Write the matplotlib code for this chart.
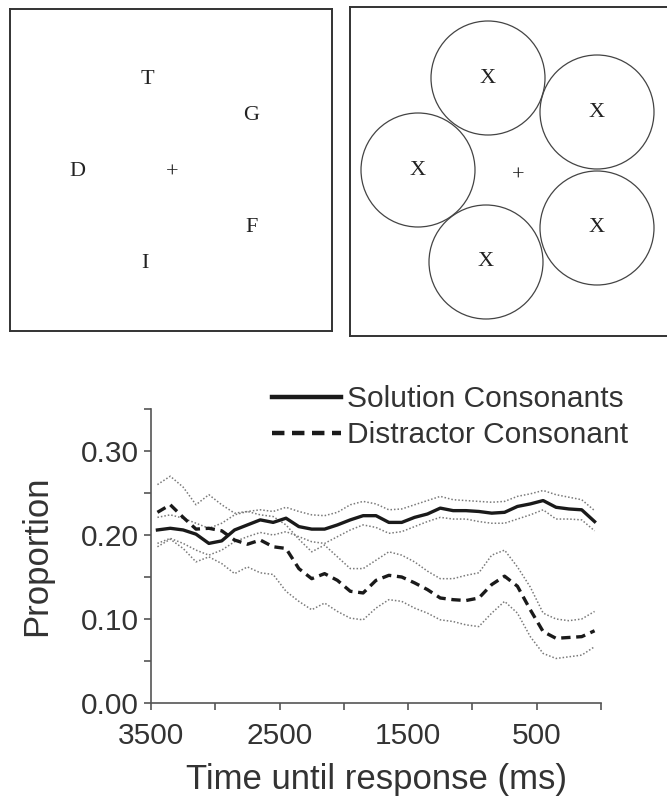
import matplotlib
matplotlib.use("Agg")
import matplotlib.pyplot as plt
from matplotlib.patches import Circle

plt.rcParams['font.family'] = ['Liberation Sans', 'DejaVu Sans']

# time bins (ms before response)
time_ms = list(range(3450, 0, -100))

sol_mean = [0.206, 0.208, 0.206, 0.201, 0.190, 0.193, 0.206, 0.212, 0.218, 0.215,
            0.220, 0.210, 0.207, 0.207, 0.212, 0.218, 0.223, 0.223, 0.215, 0.215,
            0.221, 0.225, 0.232, 0.229, 0.229, 0.228, 0.226, 0.227, 0.234, 0.237,
            0.241, 0.233, 0.231, 0.230, 0.216]
sol_upper = [0.221, 0.224, 0.220, 0.214, 0.208, 0.214, 0.224, 0.228, 0.230, 0.228,
             0.233, 0.228, 0.224, 0.223, 0.227, 0.236, 0.240, 0.237, 0.230, 0.231,
             0.236, 0.241, 0.246, 0.242, 0.241, 0.240, 0.239, 0.240, 0.246, 0.249,
             0.253, 0.248, 0.245, 0.242, 0.229]
sol_lower = [0.190, 0.196, 0.190, 0.182, 0.176, 0.182, 0.192, 0.198, 0.203, 0.200,
             0.204, 0.198, 0.192, 0.190, 0.198, 0.206, 0.212, 0.209, 0.202, 0.204,
             0.210, 0.216, 0.221, 0.219, 0.219, 0.216, 0.214, 0.214, 0.219, 0.224,
             0.230, 0.219, 0.219, 0.218, 0.205]

dis_mean = [0.227, 0.236, 0.221, 0.207, 0.208, 0.205, 0.194, 0.189, 0.194, 0.186,
            0.184, 0.160, 0.148, 0.154, 0.146, 0.133, 0.131, 0.146, 0.152, 0.150,
            0.143, 0.135, 0.125, 0.123, 0.122, 0.125, 0.141, 0.151, 0.139, 0.111,
            0.085, 0.077, 0.078, 0.079, 0.086]
dis_upper = [0.260, 0.270, 0.257, 0.236, 0.248, 0.236, 0.226, 0.228, 0.224, 0.222,
             0.212, 0.195, 0.180, 0.188, 0.174, 0.160, 0.160, 0.170, 0.180, 0.176,
             0.168, 0.157, 0.148, 0.148, 0.152, 0.155, 0.176, 0.182, 0.162, 0.138,
             0.107, 0.100, 0.098, 0.100, 0.109]
dis_lower = [0.186, 0.195, 0.184, 0.168, 0.174, 0.166, 0.154, 0.162, 0.155, 0.153,
             0.133, 0.121, 0.111, 0.119, 0.109, 0.101, 0.099, 0.113, 0.123, 0.121,
             0.113, 0.107, 0.099, 0.097, 0.093, 0.091, 0.107, 0.121, 0.107, 0.079,
             0.059, 0.053, 0.055, 0.057, 0.067]

# stimulus displays
letters = ['T', 'G', 'D', 'F', 'I']
letter_xy = [(137, 70), (241, 106), (67, 162), (242, 219), (135, 254)]
circle_xy = [(138, 71), (247, 105), (68, 163), (136, 255), (247, 221)]

W, H = 667, 797
fig = plt.figure(figsize=(W / 100, H / 100), dpi=100)

def px_axes(x0, y0, x1, y1):
    return fig.add_axes([x0 / W, 1 - y1 / H, (x1 - x0) / W, (y1 - y0) / H])

edge = '#333333'
serif = ['Liberation Serif', 'DejaVu Serif']

# left display
a1 = px_axes(10, 9, 332, 331)
a1.set_xlim(0, 322)
a1.set_ylim(322, 0)
a1.set_xticks([])
a1.set_yticks([])
for s in a1.spines.values():
    s.set_color(edge)
    s.set_linewidth(1.4)
for ch, (x, y) in zip(letters, letter_xy):
    a1.text(x, y, ch, family=serif, fontsize=16, ha='center', va='center', color='#222222')
a1.text(162, 164, '+', family=serif, fontsize=16, ha='center', va='center', color='#222222')

# right display
a2 = px_axes(350, 7, 672, 336)
a2.set_xlim(0, 322)
a2.set_ylim(329, 0)
a2.set_xticks([])
a2.set_yticks([])
for s in a2.spines.values():
    s.set_color(edge)
    s.set_linewidth(1.4)
for (x, y) in circle_xy:
    a2.add_patch(Circle((x, y), 57, fill=False, ec='#444444', lw=0.9))
    a2.text(x, y, 'X', family=serif, fontsize=16, ha='center', va='center', color='#222222')
a2.text(168, 169, '+', family=serif, fontsize=16, ha='center', va='center', color='#222222')

# time course plot
ax = px_axes(151, 409, 601, 703)
ci = dict(color='#7a7a7a', lw=1.1, ls=(0, (1, 1.3)))
for band in (sol_upper, sol_lower, dis_upper, dis_lower):
    ax.plot(time_ms, band, **ci)
ax.plot(time_ms, sol_mean, color='#1a1a1a', lw=2.4, label='Solution Consonants')
ax.plot(time_ms, dis_mean, color='#1a1a1a', lw=2.4, dashes=(2.8, 1.7),
        label='Distractor Consonant')

ax.set_xlim(3500, 0)
ax.set_ylim(0, 0.35)
ax.set_xticks([3500, 3000, 2500, 2000, 1500, 1000, 500, 0])
ax.set_xticklabels(['3500', '', '2500', '', '1500', '', '500', ''])
ax.set_yticks([0, 0.05, 0.10, 0.15, 0.20, 0.25, 0.30, 0.35])
ax.set_yticklabels(['0.00', '', '0.10', '', '0.20', '', '0.30', ''])
for side in ('top', 'right'):
    ax.spines[side].set_visible(False)
for side in ('left', 'bottom'):
    ax.spines[side].set_color('#555555')
    ax.spines[side].set_linewidth(1.2)
ax.tick_params(axis='both', colors='#555555', labelcolor='#333333', labelsize=21.5,
               width=1.2, length=5)
ax.tick_params(axis='x', pad=9)
ax.tick_params(axis='y', pad=4)
ax.set_xlabel('Time until response (ms)', fontsize=25, color='#333333', labelpad=9)
ax.set_ylabel('Proportion', fontsize=25, color='#333333', labelpad=20)

leg = fig.legend(loc='upper left', bbox_to_anchor=(272 / W, 1 - 385 / H), frameon=False,
                 fontsize=21.5, handlelength=2.3, handletextpad=0.2, labelspacing=0.28,
                 borderpad=0, borderaxespad=0)
for t in leg.get_texts():
    t.set_color('#333333')
for l in leg.get_lines():
    l.set_linewidth(3.2)

fig.savefig('out.png', dpi=100)
